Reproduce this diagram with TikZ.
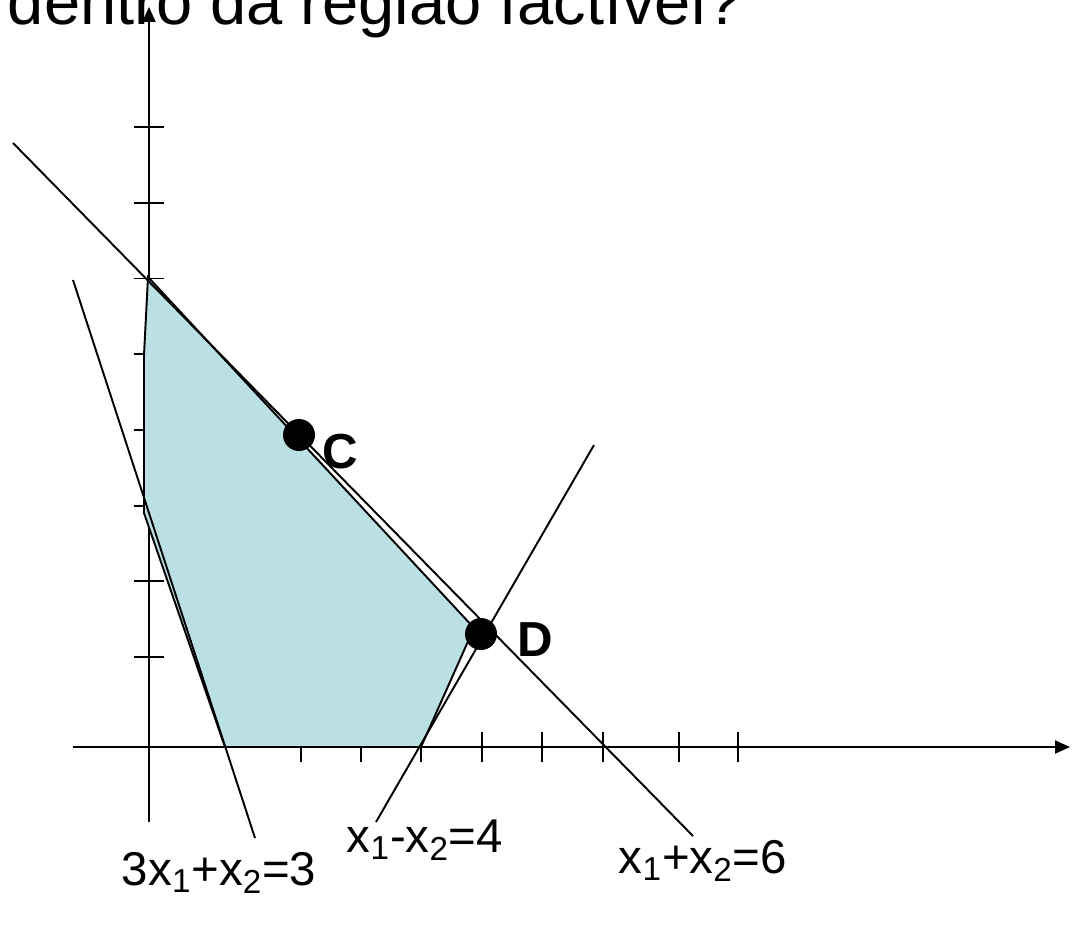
\documentclass[tikz,border=0pt]{standalone}
\usepackage{fontspec}
\setmainfont{Liberation Sans}
\usepackage{xcolor}
\usetikzlibrary{calc, arrows.meta, positioning}

\definecolor{regiao}{RGB}{187,224,227}

\begin{document}
\begin{tikzpicture}[>={Triangle[length=0.3cm,width=0.26cm]}, line width=1.1pt]

    % =================================================================
    % MOLDURA E TÍTULO (cortado no topo)
    % =================================================================
    \clip (-2.98,-3.7) rectangle (18.48,14.94);
    \useasboundingbox (-2.98,-3.7) rectangle (18.48,14.94);

    \node[anchor=base west, inner sep=0pt, font=\fontsize{37}{44}\selectfont] (titulo) at (-2.84,14.44) {dentro da região factível?};

    % =================================================================
    % EIXOS E MARCAS
    % =================================================================
    \coordinate (O) at (0,0);
    \coordinate (Xa) at (-1.52,0);
    \coordinate (Xb) at (18.42,0);
    \coordinate (Ya) at (0,-1.5);
    \coordinate (Yb) at (0,14.8);

    \draw[->] (Xa) -- (Xb);
    \draw[->] (Ya) -- (Yb);

    % marcas no eixo horizontal
    \foreach \x in {3.04,4.24,5.44,6.66,7.86,9.08,10.6,11.78} {
        \draw (\x,-0.3) -- (\x,0.3);
    }
    % marcas no eixo vertical
    \foreach \k in {0,...,7} {
        \draw (-0.3,1.8+\k*1.514) -- (0.3,1.8+\k*1.514);
    }

    % =================================================================
    % REGIÃO FACTÍVEL
    % =================================================================
    \coordinate (P1) at (-0.02,9.4);
    \coordinate (P2) at (6.5,2.38);
    \coordinate (P3) at (5.44,0);
    \coordinate (P4) at (1.52,0);
    \coordinate (P5) at (-0.1,4.68);
    \coordinate (P6) at (-0.1,7.84);

    \filldraw[fill=regiao, draw=black] (P1) -- (P2) -- (P3) -- (P4) -- (P5) -- (P6) -- cycle;

    % =================================================================
    % RESTRIÇÕES
    % =================================================================
    \coordinate (R1a) at (-2.72,12.08);  % x1+x2=6
    \coordinate (R1b) at (10.88,-1.78);
    \coordinate (R2a) at (-1.52,9.34);   % 3x1+x2=3
    \coordinate (R2b) at (2.12,-1.82);
    \coordinate (R3a) at (8.9,6.04);     % x1-x2=4
    \coordinate (R3b) at (4.54,-1.5);

    \draw (R1a) -- (R1b);
    \draw (R2a) -- (R2b);
    \draw (R3a) -- (R3b);

    \node[anchor=base west, inner sep=0pt, font=\fontsize{27}{32}\selectfont] (rot2) at (-0.56,-2.76) {3x\textsubscript{1}+x\textsubscript{2}=3};
    \node[anchor=base west, inner sep=0pt, font=\fontsize{27}{32}\selectfont] (rot3) at (3.94,-2.1) {x\textsubscript{1}-x\textsubscript{2}=4};
    \node[anchor=base west, inner sep=0pt, font=\fontsize{27}{32}\selectfont] (rot1) at (9.38,-2.52) {x\textsubscript{1}+x\textsubscript{2}=6};

    % =================================================================
    % PONTOS C E D
    % =================================================================
    \coordinate (C) at (3.0,6.24);
    \coordinate (D) at (6.64,2.26);
    \fill (C) circle (0.32);
    \fill (D) circle (0.32);

    \node[font=\fontsize{28}{33}\selectfont\bfseries] (labC) at (3.82,5.9) {C};
    \node[font=\fontsize{28}{33}\selectfont\bfseries] (labD) at (7.72,2.14) {D};

\end{tikzpicture}
\end{document}
